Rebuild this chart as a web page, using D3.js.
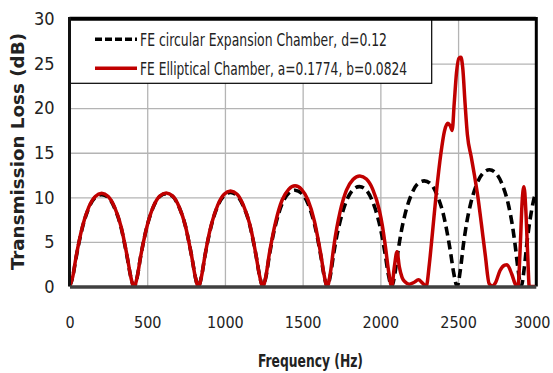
<!DOCTYPE html>
<html>
<head>
<meta charset="utf-8">
<script src="https://cdn.jsdelivr.net/npm/d3@7"></script>
<style>
  html, body { margin: 0; padding: 0; background: #fff; }
  svg { display: block; }
  text { font-family: "Liberation Sans Narrow", "Arial Narrow", "DejaVu Sans Condensed", sans-serif; fill: #222; }
</style>
</head>
<body>
<svg id="chart" width="553" height="373"></svg>
<script>
// ---------------- DATA ----------------
const xTicks = [0, 500, 1000, 1500, 2000, 2500, 3000];
const yTicks = [0, 5, 10, 15, 20, 25, 30];
const xTitle = "Frequency (Hz)";
const yTitle = "Transmission Loss (dB)";
const seriesNames = ["FE circular Expansion Chamber, d=0.12", "FE Elliptical Chamber, a=0.1774, b=0.0824"];

// FE circular expansion chamber (black dashed)
const freqCircular = [
  0, 21, 41, 62, 83, 124, 166, 207, 249, 290, 332, 352, 373, 394,
  415, 436, 456, 477, 498, 539, 581, 622, 664, 705, 747, 767, 788, 809,
  829, 850, 870, 891, 912, 953, 995, 1036, 1078, 1119, 1161, 1181, 1202, 1223,
  1244, 1265, 1285, 1306, 1327, 1368, 1410, 1451, 1493, 1534, 1576, 1596, 1617, 1638,
  1658, 1679, 1699, 1720, 1741, 1782, 1824, 1865, 1907, 1948, 1990, 2010, 2031, 2052,
  2073, 2094, 2114, 2135, 2156, 2197, 2239, 2282, 2325, 2366, 2408, 2428, 2450, 2472,
  2494, 2515, 2535, 2556, 2577, 2618, 2660, 2702, 2744, 2785, 2826, 2846, 2866, 2886,
  2906, 2926, 2945, 2965, 2985, 3000
];
const tlCircular = [
  0, 1.1, 3.1, 5.0, 6.6, 8.8, 10.0, 10.3, 10.0, 8.8, 6.6, 5.0, 3.1, 1.1,
  0, 1.1, 3.2, 5.1, 6.7, 8.9, 10.1, 10.4, 10.1, 8.9, 6.7, 5.1, 3.2, 1.1,
  0, 1.2, 3.3, 5.2, 6.8, 9.0, 10.2, 10.55, 10.2, 9.0, 6.8, 5.2, 3.3, 1.2,
  0, 1.2, 3.4, 5.4, 7.0, 9.3, 10.45, 10.8, 10.45, 9.3, 7.0, 5.4, 3.4, 1.2,
  0, 1.3, 3.6, 5.7, 7.3, 9.6, 10.85, 11.2, 10.85, 9.6, 7.3, 5.7, 3.6, 1.3,
  0, 1.5, 4.0, 6.2, 7.9, 10.2, 11.5, 11.85, 11.5, 10.2, 7.9, 6.2, 4.0, 1.5,
  0, 1.9, 4.8, 7.2, 9.0, 11.4, 12.7, 13.1, 12.7, 11.4, 9.0, 7.2, 4.8, 1.9,
  0, 2.1, 5.2, 7.7, 9.6, 10.6
];

// FE elliptical chamber (red solid)
const freqElliptical = [
  0, 21, 41, 62, 83, 124, 166, 207, 249, 290, 332, 352, 373, 394,
  415, 436, 456, 477, 498, 539, 581, 622, 664, 705, 747, 767, 788, 809,
  829, 850, 870, 891, 912, 953, 995, 1036, 1078, 1119, 1161, 1181, 1202, 1223,
  1244, 1265, 1285, 1306, 1327, 1368, 1410, 1451, 1493, 1534, 1576, 1596, 1617, 1638,
  1658, 1679, 1699, 1720, 1741, 1782, 1824, 1868, 1910, 1951, 1993, 2013, 2033, 2054,
  2073, 2090, 2107, 2122, 2140, 2160, 2185, 2215, 2245, 2270, 2295,
  2315, 2335, 2360, 2390, 2412, 2435, 2450, 2462, 2475, 2490, 2505, 2518, 2530, 2545, 2560,
  2585, 2605, 2627, 2650, 2675, 2700, 2720, 2740, 2770, 2800, 2815, 2845, 2870, 2885,
  2900, 2912, 2924, 2936, 2948, 2958, 2980, 3000
];
const tlElliptical = [
  0, 1.1, 3.2, 5.1, 6.7, 8.9, 10.1, 10.45, 10.1, 8.9, 6.7, 5.1, 3.2, 1.1,
  0, 1.1, 3.2, 5.1, 6.7, 8.95, 10.15, 10.5, 10.15, 8.95, 6.7, 5.1, 3.2, 1.1,
  0, 1.2, 3.3, 5.3, 6.9, 9.1, 10.35, 10.7, 10.35, 9.1, 6.9, 5.3, 3.3, 1.2,
  0, 1.3, 3.6, 5.6, 7.3, 9.7, 10.9, 11.3, 10.9, 9.7, 7.3, 5.6, 3.6, 1.3,
  0, 1.6, 4.3, 6.6, 8.4, 10.8, 12.0, 12.4, 12.05, 10.9, 8.6, 6.8, 4.4, 1.6,
  0, 2.2, 3.9, 2.2, 1.0, 0.5, 0.25, 0.45, 0.75, 0.4, 0,
  2.5, 6.0, 10.5, 15.0, 17.4, 18.3, 18.0, 17.5, 20.5, 24.0, 25.6, 25.7, 24.5, 20.5, 17.0,
  14.5, 12.5, 10.1, 7.0, 3.5, 0.3, 0.05, 0.4, 1.8, 2.4, 2.45, 1.4, 0.2, 0,
  4.5, 9.5, 11.2, 8.5, 3.5, 0, 0, 0
];

// ---------------- CHART ----------------
const svg = d3.select("#chart");
const X0 = 69.5, X1 = 535.8, Y0 = 286.5, Y1 = 19;
const x = d3.scaleLinear().domain([0, 3000]).range([X0, X1]);
const y = d3.scaleLinear().domain([0, 30]).range([Y0, Y1]);
const FONT = "'Liberation Sans Narrow','Arial Narrow','DejaVu Sans Condensed',sans-serif";

// gridlines
svg.append("g")
  .attr("transform", `translate(0,${Y0})`)
  .call(d3.axisBottom(x).tickValues(xTicks.slice(1, -1)).tickSize(-(Y0 - Y1)).tickFormat(""))
  .call(g => g.select(".domain").remove())
  .call(g => g.selectAll("line").attr("stroke", "#b4b4b4").attr("stroke-width", 1.3));
svg.append("g")
  .attr("transform", `translate(${X0},0)`)
  .call(d3.axisLeft(y).tickValues(yTicks.slice(1, -1)).tickSize(-(X1 - X0)).tickFormat(""))
  .call(g => g.select(".domain").remove())
  .call(g => g.selectAll("line").attr("stroke", "#b4b4b4").attr("stroke-width", 1.3));

// clip
svg.append("defs").append("clipPath").attr("id", "clip")
  .append("rect").attr("x", X0).attr("y", Y1 - 2).attr("width", X1 - X0).attr("height", Y0 - Y1 + 2);

const line = d3.line().x(d => x(d[0])).y(d => y(d[1])).curve(d3.curveMonotoneX);
const circData = freqCircular.map((f, i) => [f, tlCircular[i]]);
const ellData = freqElliptical.map((f, i) => [f, tlElliptical[i]]);

const plot = svg.append("g").attr("clip-path", "url(#clip)");
plot.append("path").datum(circData).attr("d", line)
  .attr("fill", "none").attr("stroke", "#000").attr("stroke-width", 3.6)
  .attr("stroke-dasharray", "9,5");
plot.append("path").datum(ellData).attr("d", line)
  .attr("fill", "none").attr("stroke", "#c00000").attr("stroke-width", 3.5)
  .attr("stroke-linejoin", "round");

// legend
const lg = svg.append("g");
lg.append("rect").attr("x", X0).attr("y", Y1).attr("width", 431.7 - X0).attr("height", 83.3 - Y1)
  .attr("fill", "#fff").attr("stroke", "#000").attr("stroke-width", 1.2);
lg.append("line").attr("x1", 95).attr("x2", 137).attr("y1", 39.3).attr("y2", 39.3)
  .attr("stroke", "#000").attr("stroke-width", 3.6).attr("stroke-dasharray", "7,3");
lg.append("line").attr("x1", 95).attr("x2", 137).attr("y1", 68.3).attr("y2", 68.3)
  .attr("stroke", "#c00000").attr("stroke-width", 3.6);
lg.append("text").attr("x", 140).attr("y", 45.5).attr("font-size", 17)
  .attr("textLength", 247).attr("lengthAdjust", "spacingAndGlyphs").text(seriesNames[0]);
lg.append("text").attr("x", 140).attr("y", 74.5).attr("font-size", 17)
  .attr("textLength", 267).attr("lengthAdjust", "spacingAndGlyphs").text(seriesNames[1]);

// borders / axes lines
svg.append("line").attr("x1", X0).attr("x2", X1).attr("y1", 18.8).attr("y2", 18.8)
  .attr("stroke", "#000").attr("stroke-width", 4);
svg.append("line").attr("x1", X1 + 0.5).attr("x2", X1 + 0.5).attr("y1", 17).attr("y2", Y0)
  .attr("stroke", "#000").attr("stroke-width", 3);
svg.append("line").attr("x1", X0).attr("x2", X0).attr("y1", 17).attr("y2", Y0)
  .attr("stroke", "#111").attr("stroke-width", 3);

// axes with labels
const ax = svg.append("g").attr("transform", `translate(0,${Y0})`)
  .call(d3.axisBottom(x).tickValues(xTicks).tickSize(0).tickPadding(30).tickFormat(d3.format("d")));
ax.select(".domain").attr("stroke", "#404040").attr("stroke-width", 3.5);
ax.selectAll("text").attr("font-size", 16).attr("fill", "#222").attr("font-family", FONT);
// keep the last label inside the window
ax.selectAll(".tick").filter(d => d === xTicks[xTicks.length - 1]).select("text")
  .attr("text-anchor", "end").attr("x", 550 - X1);

const ay = svg.append("g").attr("transform", `translate(${X0},0)`)
  .call(d3.axisLeft(y).tickValues(yTicks).tickSize(0).tickPadding(15).tickFormat(d3.format("d")));
ay.select(".domain").remove();
ay.selectAll("text").attr("font-size", 18).attr("fill", "#222").attr("font-family", FONT);

// titles
svg.append("text").attr("x", 310.5).attr("y", 367).attr("text-anchor", "middle")
  .attr("font-size", 17).attr("font-weight", "bold")
  .attr("textLength", 105).attr("lengthAdjust", "spacingAndGlyphs").text(xTitle);
svg.append("text").attr("transform", "translate(24,151.5) rotate(-90)").attr("text-anchor", "middle")
  .attr("font-size", 17).attr("font-weight", "bold")
  .attr("textLength", 237).attr("lengthAdjust", "spacingAndGlyphs").text(yTitle);
</script>
</body>
</html>
